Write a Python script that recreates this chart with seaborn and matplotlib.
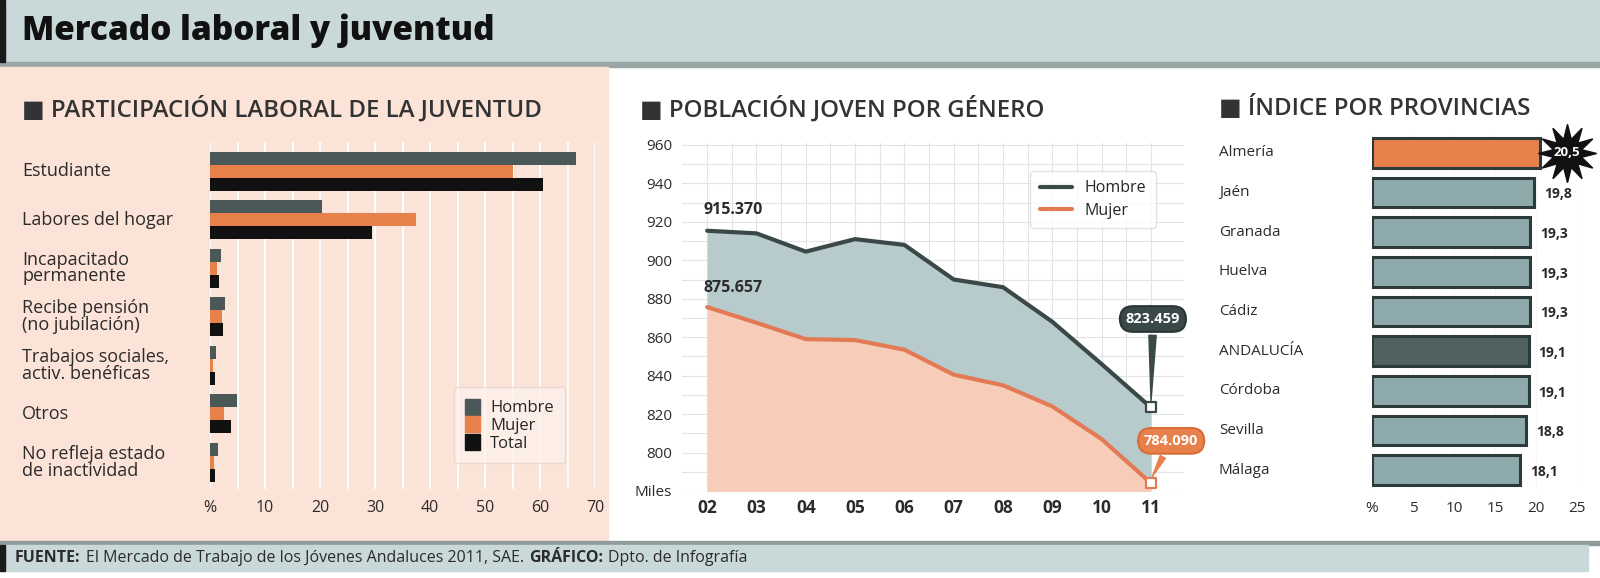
import numpy as np
import pandas as pd
import matplotlib.pyplot as plt
import seaborn as sns
from matplotlib.patches import Rectangle
from matplotlib.lines import Line2D
from matplotlib.transforms import blended_transform_factory

# Participación laboral de la juventud (%)
situaciones = ['Estudiante', 'Labores del hogar', 'Incapacitado\npermanente',
               'Recibe pensión\n(no jubilación)', 'Trabajos sociales,\nactiv. benéficas',
               'Otros', 'No refleja estado\nde inactividad']
grupos = ['Hombre', 'Mujer', 'Total']
hombre_pct = [66.5, 20.3, 2.0, 2.8, 1.0, 4.9, 1.4]
mujer_pct = [55.0, 37.5, 1.2, 2.2, 0.6, 2.6, 0.8]
total_pct = [60.5, 29.4, 1.7, 2.4, 0.9, 3.8, 0.9]

# Población joven por género (miles)
anios = [2002, 2003, 2004, 2005, 2006, 2007, 2008, 2009, 2010, 2011]
anios_lbl = ['02', '03', '04', '05', '06', '07', '08', '09', '10', '11']
hombres_miles = [915.370, 914.0, 904.5, 911.0, 908.0, 890.0, 886.0, 868.0, 846.0, 823.459]
mujeres_miles = [875.657, 867.5, 859.0, 858.5, 853.5, 840.5, 835.0, 824.0, 807.0, 784.090]
y_ticks = [780, 800, 820, 840, 860, 880, 900, 920, 940, 960]
y_ticks_lbl = ['Miles', '800', '820', '840', '860', '880', '900', '920', '940', '960']

# Índice por provincias (%)
provincias = ['Almería', 'Jaén', 'Granada', 'Huelva', 'Cádiz', 'ANDALUCÍA',
              'Córdoba', 'Sevilla', 'Málaga']
indice = [20.5, 19.8, 19.3, 19.3, 19.3, 19.1, 19.1, 18.8, 18.1]
indice_lbl = ['20,5', '19,8', '19,3', '19,3', '19,3', '19,1', '19,1', '18,8', '18,1']

sns.set_theme(style='white')
plt.rcParams['font.family'] = ['Open Sans', 'DejaVu Sans']

W, H = 1600, 578
c_hombre = '#4b5858'
c_mujer = '#e8804c'
c_total = '#111111'
c_text = '#2b2b2b'
c_band = '#c9d9da'


def px_box(l, t, r, b):
    return [l / W, 1 - b / H, (r - l) / W, (b - t) / H]


def px_rect(l, t, r, b, color):
    return Rectangle((l / W, 1 - b / H), (r - l) / W, (b - t) / H,
                     transform=fig.transFigure, color=color, zorder=-1)


fig = plt.figure(figsize=(16, 5.78), dpi=100)
fig.patch.set_facecolor('white')
renderer = fig.canvas.get_renderer()

# title bar / panels / footer
for r in [px_rect(0, 0, W, 62, c_band), px_rect(0, 62, W, 67, '#9aa6a6'),
          px_rect(0, 0, 5, 62, '#1a1a1a'), px_rect(0, 67, 608, 541, '#fbe3d8'),
          px_rect(0, 541, W, 545, '#8f9b9b'), px_rect(0, 545, 1588, 571, c_band),
          px_rect(0, 545, 5, 571, '#1a1a1a')]:
    fig.patches.append(r)

fig.text(22 / W, 1 - 31 / H, 'Mercado laboral y juventud', fontsize=24, fontweight='heavy',
         color='#111111', va='center', ha='left')

# footer, each piece placed after the previous one
foot = [('FUENTE:', 'bold'),
        ('El Mercado de Trabajo de los Jóvenes Andaluces 2011, SAE.', 'normal'),
        ('GRÁFICO:', 'bold'), ('Dpto. de Infografía', 'normal')]
x = 15
for t, w in foot:
    txt = fig.text(x / W, 1 - 558 / H, t, fontsize=11.5, fontweight=w, color=c_text,
                   va='center', ha='left')
    x = txt.get_window_extent(renderer).x1 + 5

for x, t in [(22, 'PARTICIPACIÓN LABORAL DE LA JUVENTUD'), (640, 'POBLACIÓN JOVEN POR GÉNERO'),
             (1219, 'ÍNDICE POR PROVINCIAS')]:
    fig.text(x / W, 1 - 109 / H, '■ ' + t, fontsize=17.3, fontweight='semibold',
             color='#333333', va='center', ha='left')

# ---- left: horizontal grouped bars
ax1 = fig.add_axes(px_box(210, 142, 595, 489))
ax1.set_facecolor('none')
df1 = pd.concat([
    pd.DataFrame({'situacion': situaciones, 'grupo': 'Hombre', 'pct': hombre_pct}),
    pd.DataFrame({'situacion': situaciones, 'grupo': 'Mujer', 'pct': mujer_pct}),
    pd.DataFrame({'situacion': situaciones, 'grupo': 'Total', 'pct': total_pct}),
])
sns.barplot(data=df1, y='situacion', x='pct', hue='grupo', hue_order=grupos,
            palette=[c_hombre, c_mujer, c_total], orient='h', width=0.8,
            saturation=1, legend=False, linewidth=0, ax=ax1, zorder=3)
ax1.set_xlim(0, 70)
ax1.set_ylim(6.55, -0.6)
ax1.set_xticks(range(0, 71, 10))
ax1.set_xticks(range(5, 70, 10), minor=True)
ax1.set_xticklabels(['%'] + [str(v) for v in range(10, 71, 10)], fontsize=11.5, color=c_text)
ax1.set_yticks(range(len(situaciones)))
ax1.set_yticklabels([])
ax1.set_xlabel('')
ax1.set_ylabel('')
ax1.grid(axis='x', which='both', color='white', lw=1.3, zorder=0)
ax1.tick_params(axis='x', length=0, pad=8)
ax1.tick_params(axis='y', length=0)
sns.despine(ax=ax1, left=True, bottom=True)
tr1 = blended_transform_factory(fig.transFigure, ax1.transData)
for i, s in enumerate(situaciones):
    ax1.text(22 / W, i, s, transform=tr1, fontsize=13, color=c_text, va='center',
             ha='left', linespacing=0.9)
h1 = [Rectangle((0, 0), 1, 1, color=c) for c in [c_hombre, c_mujer, c_total]]
leg1 = ax1.legend(h1, grupos, loc='lower right', bbox_to_anchor=(0.945, 0.05),
                  fontsize=12, frameon=True, handlelength=0.9, handleheight=1.1,
                  labelspacing=0.0, handletextpad=0.6, borderpad=0.7, fancybox=True)
leg1.get_frame().set_facecolor('#fdf1ec')
leg1.get_frame().set_edgecolor('#e6d6cf')

# ---- middle: population lines
ax2 = fig.add_axes(px_box(682, 143, 1184, 491))
ax2.set_facecolor('white')
ax2.fill_between(anios, 770, mujeres_miles, color='#f7ccb8', zorder=1, lw=0)
ax2.fill_between(anios, mujeres_miles, hombres_miles, color='#b8cbcc', zorder=1, lw=0)
sns.lineplot(x=anios, y=hombres_miles, color='#3a4848', lw=3, ax=ax2, zorder=3)
sns.lineplot(x=anios, y=mujeres_miles, color='#e27b55', lw=3, ax=ax2, zorder=3)
ax2.scatter([anios[-1]], [hombres_miles[-1]], marker='s', s=60, facecolor='white',
            edgecolor='#3a4848', lw=1.6, zorder=5)
ax2.scatter([anios[-1]], [mujeres_miles[-1]], marker='s', s=60, facecolor='white',
            edgecolor='#e27b55', lw=1.6, zorder=5, clip_on=False)
ax2.set_xlim(2001.49, 2011.67)
ax2.set_ylim(780, 961)
ax2.set_xticks(anios)
ax2.set_xticklabels(anios_lbl, fontsize=12.5, fontweight='bold', color=c_text)
ax2.set_xticks(np.array(anios[:-1]) + 0.5, minor=True)
ax2.set_yticks(y_ticks)
ax2.set_yticklabels(y_ticks_lbl, fontsize=11, color=c_text)
ax2.set_yticks(np.array(y_ticks[:-1]) + 10, minor=True)
ax2.grid(which='both', color='#e3e3e3', lw=0.8, zorder=0)
ax2.set_axisbelow(True)
ax2.tick_params(axis='both', length=0)
ax2.tick_params(axis='x', pad=6)
ax2.tick_params(axis='y', pad=7)
for sp in ax2.spines.values():
    sp.set_visible(False)
ax2.text(anios[0] - 0.07, hombres_miles[0] + 11, f'{hombres_miles[0]:.3f}', fontsize=11.5,
         fontweight='bold', color=c_text, ha='left', va='center', zorder=6)
ax2.text(anios[0] - 0.07, mujeres_miles[0] + 10, f'{mujeres_miles[0]:.3f}', fontsize=11.5,
         fontweight='bold', color=c_text, ha='left', va='center', zorder=6)
ax2.annotate(f'{hombres_miles[-1]:.3f}', xy=(anios[-1], hombres_miles[-1] + 2),
             xytext=(anios[-1] + 0.04, hombres_miles[-1] + 46), fontsize=10.5,
             fontweight='bold', color='white', ha='center', va='center', zorder=7,
             bbox=dict(boxstyle='round,pad=0.4,rounding_size=0.9', fc='#3a4848',
                       ec='#2a3535', lw=1.5),
             arrowprops=dict(arrowstyle='wedge,tail_width=0.5', fc='#3a4848', ec='#3a4848'))
ax2.annotate(f'{mujeres_miles[-1]:.3f}', xy=(anios[-1], mujeres_miles[-1] + 2),
             xytext=(anios[-1] + 0.41, mujeres_miles[-1] + 22), fontsize=10.5,
             fontweight='bold', color='white', ha='center', va='center', zorder=7,
             annotation_clip=False,
             bbox=dict(boxstyle='round,pad=0.4,rounding_size=0.9', fc='#e8804c',
                       ec='#d96c36', lw=1.5),
             arrowprops=dict(arrowstyle='wedge,tail_width=0.4', fc='#e8804c', ec='#e8804c'))
h2 = [Line2D([0], [0], color='#3a4848', lw=3), Line2D([0], [0], color='#e27b55', lw=3)]
leg2 = ax2.legend(h2, ['Hombre', 'Mujer'], loc='upper right', bbox_to_anchor=(0.96, 0.943),
                  fontsize=11.5, frameon=True, handlelength=2.0, labelspacing=0.4,
                  borderpad=0.6, fancybox=True)
leg2.get_frame().set_facecolor('white')
leg2.get_frame().set_edgecolor('#dddddd')

# ---- right: provinces
ax3 = fig.add_axes(px_box(1372, 133, 1577, 490))
ax3.set_facecolor('white')
colores = {p: '#8eaaad' for p in provincias}
colores['Almería'] = '#e8804c'
colores['ANDALUCÍA'] = '#50625f'
sns.barplot(y=provincias, x=indice, hue=provincias, palette=colores, orient='h',
            width=0.74, saturation=1, legend=False, edgecolor='#2d3a3a', linewidth=2.2,
            ax=ax3, zorder=3)
ax3.set_xlim(0, 25)
ax3.set_ylim(8.5, -0.5)
ax3.set_xticks(range(0, 26, 5))
ax3.set_xticklabels(['%', '5', '10', '15', '20', '25'], fontsize=11, color=c_text)
ax3.set_yticks(range(len(provincias)))
ax3.set_yticklabels([])
ax3.tick_params(axis='both', length=0)
ax3.tick_params(axis='x', pad=8)
ax3.grid(axis='x', color='#eeeeee', lw=0.8, ls=':', zorder=0)
for sp in ax3.spines.values():
    sp.set_visible(False)
tr3 = blended_transform_factory(fig.transFigure, ax3.transData)
for i, p in enumerate(provincias):
    ax3.text(1219 / W, i, p, transform=tr3, fontsize=11, color=c_text, va='center',
             ha='left')
for i in range(1, len(provincias)):
    ax3.text(indice[i] + 1.2, i + 0.05, indice_lbl[i], fontsize=10, fontweight='bold',
             color=c_text, ha='left', va='center')
ax3.plot([indice[0] + 3.3], [0], marker=(12, 1, 0), ms=42, color='#111111',
         zorder=6, clip_on=False)
ax3.text(indice[0] + 3.3, 0, indice_lbl[0], fontsize=9.5, fontweight='bold',
         color='white', ha='center', va='center', zorder=7, clip_on=False)

fig.savefig('out.png', dpi=100)
